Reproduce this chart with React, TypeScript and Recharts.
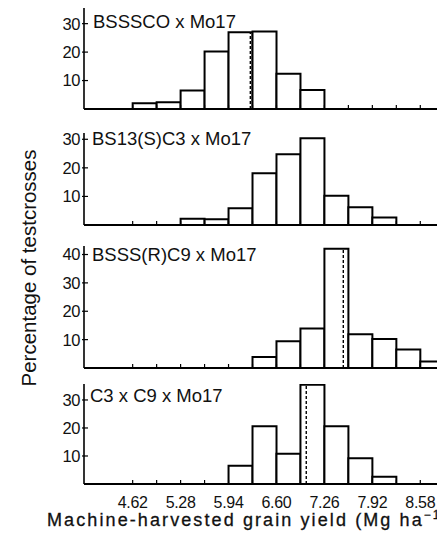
import { Bar, BarChart, ReferenceLine, XAxis, YAxis } from "recharts";

const FONT = '"Liberation Sans", Arial, Helvetica, sans-serif';

// lower edges of the 0.33 Mg/ha classes
const binLow = [4.62, 4.95, 5.28, 5.61, 5.94, 6.27, 6.6, 6.93, 7.26, 7.59, 7.92, 8.25, 8.58];
const binWidth = 0.33;
const xLabels = [4.62, 5.28, 5.94, 6.6, 7.26, 7.92, 8.58];
const xDomain = [3.95, 8.81];

const panelNames = ["BSSSCO x Mo17", "BS13(S)C3 x Mo17", "BSSS(R)C9 x Mo17", "C3 x C9 x Mo17"];

const bssscoPct = [2.0, 2.4, 6.5, 20.2, 27.0, 27.2, 12.4, 6.7, 0, 0, 0, 0, 0];
const bs13Pct = [0, 0, 2.2, 2.0, 5.9, 18.1, 24.8, 30.4, 10.2, 6.2, 2.6, 0, 0];
const bsssrPct = [0, 0, 0, 0, 0, 3.9, 9.4, 13.9, 42.0, 11.9, 10.2, 6.5, 2.3];
const c3c9Pct = [0, 0, 0, 0, 6.5, 20.6, 10.8, 35.4, 20.6, 9.2, 2.6, 0, 0];

const means = [6.24, null, 7.52, 7.01];
const yMax = [35.5, 32.2, 43, 35.7];
const yTicks3 = [10, 20, 30];
const yTicks4 = [10, 20, 30, 40];

function XTick(props: any) {
  const { x, y, payload, showLabel } = props;
  const v = payload.value as number;
  const labeled = showLabel && xLabels.some((l) => Math.abs(l - v) < 1e-6);
  return (
    <g>
      <line x1={x} x2={x} y1={y} y2={y - 4} stroke="#000" strokeWidth={1.2} />
      {labeled && (
        <text x={x} y={y + 24} textAnchor="middle" fontSize={16} fontFamily={FONT} fill="#111" letterSpacing={-0.3}>
          {v.toFixed(2)}
        </text>
      )}
    </g>
  );
}

function YTick(props: any) {
  const { x, y, payload } = props;
  return (
    <g>
      <line x1={x - 2} x2={x + 4} y1={y} y2={y} stroke="#000" strokeWidth={1.2} />
      <text x={x - 4} y={y} dy="0.36em" textAnchor="end" fontSize={16.5} fontFamily={FONT} fill="#111" letterSpacing={-0.4}>
        {payload.value}
      </text>
    </g>
  );
}

function Panel({
  values,
  mean,
  max,
  ticks,
  plotTop,
  plotBottom,
  showLabels,
}: {
  values: number[];
  mean: number | null;
  max: number;
  ticks: number[];
  plotTop: number;
  plotBottom: number;
  showLabels: boolean;
}) {
  const data = binLow.map((lo, i) => ({ mid: lo + binWidth / 2, pct: values[i] }));
  const xh = showLabels ? 30 : 3;
  const pad = 4;
  const height = plotBottom - plotTop + pad + xh;
  let meanTop = 0;
  if (mean !== null) {
    const idx = binLow.findIndex((lo) => mean >= lo && mean < lo + binWidth);
    meanTop = values[idx];
  }
  return (
    <div style={{ position: "absolute", left: 0, top: plotTop - pad }}>
      <BarChart
        width={437}
        height={height}
        data={data}
        margin={{ top: pad, right: 0, bottom: 0, left: 0 }}
        barCategoryGap={0}
        barGap={0}
      >
        <XAxis
          dataKey="mid"
          type="number"
          domain={xDomain}
          ticks={binLow}
          interval={0}
          allowDataOverflow
          height={xh}
          tickSize={0}
          tickMargin={0}
          tickLine={false}
          axisLine={{ stroke: "#000", strokeWidth: 2 }}
          tick={(p: any) => <XTick {...p} showLabel={showLabels} />}
        />
        <YAxis
          type="number"
          width={84}
          domain={[0, max]}
          ticks={ticks}
          interval={0}
          allowDataOverflow
          tickSize={0}
          tickMargin={0}
          tickLine={false}
          axisLine={{ stroke: "#000", strokeWidth: 1.6 }}
          tick={(p: any) => <YTick {...p} />}
        />
        <Bar dataKey="pct" fill="#fff" stroke="#000" strokeWidth={2} isAnimationActive={false} />
        {mean !== null && (
          <ReferenceLine
            segment={[
              { x: mean, y: 0 },
              { x: mean, y: meanTop },
            ]}
            stroke="#000"
            strokeWidth={1.4}
            strokeDasharray="3 2"
          />
        )}
      </BarChart>
    </div>
  );
}

export default function App() {
  return (
    <div
      style={{
        position: "absolute",
        left: 0,
        top: 0,
        width: 437,
        height: 538,
        overflow: "hidden",
        background: "#fff",
        fontFamily: FONT,
      }}
    >
      <Panel values={bssscoPct} mean={means[0]} max={yMax[0]} ticks={yTicks3} plotTop={8} plotBottom={109} showLabels={false} />
      <Panel values={bs13Pct} mean={means[1]} max={yMax[1]} ticks={yTicks3} plotTop={133} plotBottom={225} showLabels={false} />
      <Panel values={bsssrPct} mean={means[2]} max={yMax[2]} ticks={yTicks4} plotTop={246} plotBottom={368} showLabels={false} />
      <Panel values={c3c9Pct} mean={means[3]} max={yMax[3]} ticks={yTicks3} plotTop={384} plotBottom={484} showLabels={true} />
      <svg width={437} height={538} style={{ position: "absolute", left: 0, top: 0, pointerEvents: "none" }}>
        <g fontFamily={FONT} fill="#111" fontSize={18.5}>
          <text x={93} y={28}>{panelNames[0]}</text>
          <text x={92} y={145}>{panelNames[1]}</text>
          <text x={92} y={261}>{panelNames[2]}</text>
          <text x={90} y={402}>{panelNames[3]}</text>
        </g>
        <text
          transform="translate(36, 268) rotate(-90)"
          textAnchor="middle"
          fontFamily={FONT}
          fontSize={20.5}
          fill="#111"
        >
          Percentage of testcrosses
        </text>
        <text
          x={47}
          y={526}
          fontFamily={FONT}
          fontSize={18}
          fill="#111"
          stroke="#111"
          strokeWidth={0.3}
          letterSpacing={2.1}
        >
          Machine-harvested grain yield (Mg ha
          <tspan fontSize={12} dy={-7}>−1</tspan>
          <tspan dy={7}>)</tspan>
        </text>
      </svg>
    </div>
  );
}
